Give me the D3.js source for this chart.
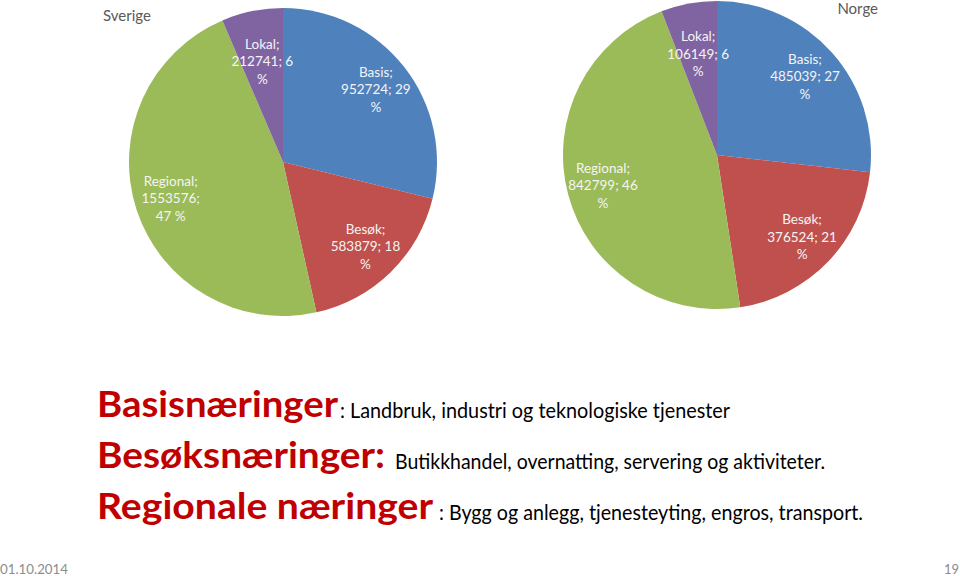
<!DOCTYPE html>
<html>
<head>
<meta charset="utf-8">
<script src="https://cdn.jsdelivr.net/npm/d3@7"></script>
<style>
  html, body { margin: 0; padding: 0; background: #ffffff; }
  svg { display: block; }
</style>
</head>
<body>
<svg id="chart" width="960" height="576"></svg>
<script>
// ---- data ----
const categories = ["Basis", "Besøk", "Regional", "Lokal"];
const sverigeValues = [952724, 583879, 1553576, 212741];
const sverigePct = [29, 18, 47, 6];
const norgeValues = [485039, 376524, 842799, 106149];
const norgePct = [27, 21, 46, 6];
const countries = ["Sverige", "Norge"];
const colors = ["#4F81BD", "#C0504D", "#9BBB59", "#8064A2"];
const terms = ["Basisnæringer", "Besøksnæringer:", "Regionale næringer"];
const descriptions = [
  ": Landbruk, industri og teknologiske tjenester",
  "Butikkhandel, overnatting, servering og aktiviteter.",
  ": Bygg og anlegg, tjenesteyting, engros, transport."
];
const footerDate = "01.10.2014";
const footerPage = "19";

// ---- drawing ----
const svg = d3.select("#chart");
const labelFont = "Lato, 'Open Sans', sans-serif";
const R = 154;

function wrapLabel(tokens, maxChars) {
  const lines = [];
  let cur = "";
  tokens.forEach(t => {
    if (cur === "") cur = t;
    else if ((cur + " " + t).length <= maxChars) cur = cur + " " + t;
    else { lines.push(cur); cur = t; }
  });
  if (cur) lines.push(cur);
  return lines;
}

const pie = d3.pie().sort(null).value(d => d.value).startAngle(0).endAngle(2 * Math.PI);
const arc = d3.arc().innerRadius(0).outerRadius(R);
const labelArcWide = d3.arc().innerRadius(118).outerRadius(118);
const labelArcThin = d3.arc().innerRadius(103).outerRadius(103);
const color = d3.scaleOrdinal().domain(categories).range(colors);

const pies = [
  { name: countries[0], values: sverigeValues, pct: sverigePct, cx: 283, cy: 162, tx: 103, ty: 21, anchor: "start" },
  { name: countries[1], values: norgeValues, pct: norgePct, cx: 717, cy: 155, tx: 878, ty: 14, anchor: "end" }
];

pies.forEach(p => {
  const data = categories.map((c, i) => ({ cat: c, value: p.values[i], pct: p.pct[i] }));
  const g = svg.append("g").attr("transform", `translate(${p.cx},${p.cy})`);
  const arcs = pie(data);
  g.selectAll("path.slice").data(arcs).enter().append("path")
    .attr("class", "slice")
    .attr("d", arc)
    .attr("fill", d => color(d.data.cat));

  const lh = 17.5;
  arcs.forEach(a => {
    const thin = (a.endAngle - a.startAngle) < 0.6;
    const [lx, ly] = (thin ? labelArcThin : labelArcWide).centroid(a);
    const tokens = [a.data.cat + ";", a.data.value + ";", String(a.data.pct), "%"];
    const lines = wrapLabel(tokens, 10);
    const t = g.append("text")
      .attr("text-anchor", "middle")
      .attr("font-family", labelFont)
      .attr("font-size", 13.5)
      .attr("fill", "#f4f4f4");
    lines.forEach((ln, i) => {
      t.append("tspan")
        .attr("x", lx)
        .attr("y", ly + (i - (lines.length - 1) / 2) * lh + 5)
        .text(ln);
    });
  });

  svg.append("text")
    .attr("x", p.tx).attr("y", p.ty)
    .attr("text-anchor", p.anchor)
    .attr("font-family", labelFont)
    .attr("font-size", 15)
    .attr("fill", "#595959")
    .text(p.name);
});

// ---- definitions ----
const baselines = [417, 468, 519];
const termWidths = [241, 288, 336];
const descX = [340, 395, 439];
const descWidths = [390, 430, 424];
terms.forEach((term, i) => {
  svg.append("text")
    .attr("x", 97).attr("y", baselines[i])
    .attr("font-family", labelFont)
    .attr("font-weight", 700)
    .attr("font-size", 36)
    .attr("fill", "#C00000")
    .attr("textLength", termWidths[i])
    .attr("lengthAdjust", "spacingAndGlyphs")
    .text(term);
  svg.append("text")
    .attr("x", descX[i]).attr("y", baselines[i] + 1)
    .attr("font-family", labelFont)
    .attr("font-size", 21)
    .attr("fill", "#000000")
    .attr("textLength", descWidths[i])
    .attr("lengthAdjust", "spacingAndGlyphs")
    .text(descriptions[i]);
});

// ---- footer ----
svg.append("text")
  .attr("x", 0).attr("y", 574)
  .attr("font-family", labelFont)
  .attr("font-size", 13)
  .attr("fill", "#8c8c8c")
  .attr("textLength", 68)
  .attr("lengthAdjust", "spacingAndGlyphs")
  .text(footerDate);
svg.append("text")
  .attr("x", 959).attr("y", 574)
  .attr("text-anchor", "end")
  .attr("font-family", labelFont)
  .attr("font-size", 13)
  .attr("fill", "#8c8c8c")
  .text(footerPage);
</script>
</body>
</html>
